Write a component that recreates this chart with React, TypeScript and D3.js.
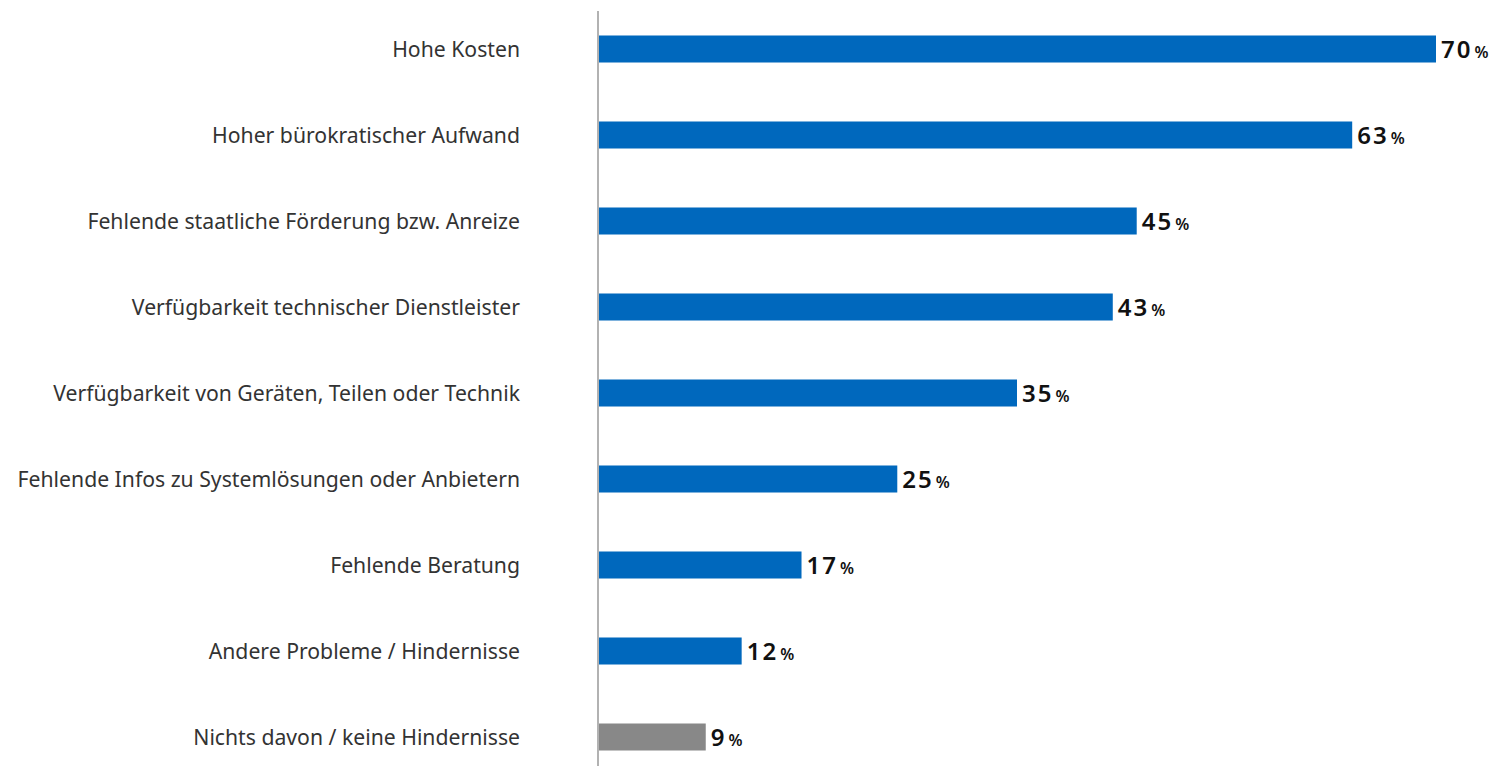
import React from "react";
import * as d3 from "d3";

const categories = [
  "Hohe Kosten",
  "Hoher bürokratischer Aufwand",
  "Fehlende staatliche Förderung bzw. Anreize",
  "Verfügbarkeit technischer Dienstleister",
  "Verfügbarkeit von Geräten, Teilen oder Technik",
  "Fehlende Infos zu Systemlösungen oder Anbietern",
  "Fehlende Beratung",
  "Andere Probleme / Hindernisse",
  "Nichts davon / keine Hindernisse",
];
const values = [70, 63, 45, 43, 35, 25, 17, 12, 9];
const highlight = [false, false, false, false, false, false, false, false, true];

const W = 1497;
const H = 766;

export default function App() {
  const x0 = 598;
  const x = d3.scaleLinear().domain([0, 70]).range([x0, 1436]);
  const y = d3
    .scaleBand<string>()
    .domain(categories)
    .range([6, 780])
    .paddingInner(0.686)
    .paddingOuter(0.343);
  return (
    <svg
      width={W}
      height={H}
      style={{ position: "absolute", left: 0, top: 0, background: "#fff" }}
      fontFamily="'Noto Sans', sans-serif"
    >
      <line x1={x0} x2={x0} y1={11} y2={H} stroke="#999" strokeWidth={1.5} />
      {categories.map((c, i) => {
        const yy = y(c)!;
        const bh = y.bandwidth();
        const cy = yy + bh / 2;
        return (
          <g key={c}>
            <text
              x={520}
              y={cy + 8}
              textAnchor="end"
              fontSize={21.2}
              fill="#333"
            >
              {c}
            </text>
            <rect
              x={x0 + 1}
              y={yy}
              width={x(values[i]) - x0 - 1}
              height={bh}
              fill={highlight[i] ? "#888888" : "#0068BD"}
            />
            <text x={x(values[i]) + 5} y={cy + 8.5} fill="#111">
              <tspan fontSize={24} fontWeight={600} letterSpacing={2}>{values[i]}</tspan>
              <tspan fontSize={16} fontWeight={600} dx={2}>%</tspan>
            </text>
          </g>
        );
      })}
    </svg>
  );
}
